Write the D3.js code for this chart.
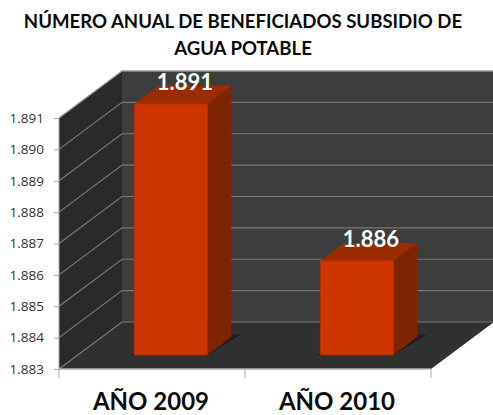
<!DOCTYPE html>
<html><head><meta charset="utf-8">
<script src="https://cdnjs.cloudflare.com/ajax/libs/d3/7.8.5/d3.min.js"></script>
<style>html,body{margin:0;padding:0;background:#fff}svg{display:block}</style>
</head><body><svg id="c" width="493" height="415"></svg>
<script>
const titleLines = ["NÚMERO ANUAL DE BENEFICIADOS SUBSIDIO DE", "AGUA POTABLE"];
const categories = ["AÑO 2009", "AÑO 2010"];
const values = [1891, 1886];
const valueLabels = ["1.891", "1.886"];
const tickValues = [1883, 1884, 1885, 1886, 1887, 1888, 1889, 1890, 1891];
const tickLabels = ["1.883", "1.884", "1.885", "1.886", "1.887", "1.888", "1.889", "1.890", "1.891"];

const svg = d3.select("#c");
const font = "Lato, 'Open Sans', sans-serif";
const W = {l: 59, r: 431, top: 118, bottom: 369, dx: 63, dy: -47};
const x = d3.scaleBand().domain(categories).range([W.l, W.r]);
const y = d3.scaleLinear().domain([1883, 1891]).range([W.bottom, W.top]);
const barW = 73, d0 = 0.3, d1 = 0.68;
const line = d3.line();
const P = (px, v, t) => [px + W.dx * t, y(v) + W.dy * t];
const poly = (pts, fill, stroke) => svg.append("path").attr("d", line(pts) + "Z").attr("fill", fill).attr("stroke", stroke || "none");

// titles
svg.selectAll("text.t").data(titleLines).join("text").attr("class", "t")
  .attr("x", 243).attr("y", (d, i) => 28 + i * 27)
  .attr("text-anchor", "middle").attr("font-family", font).attr("font-weight", 700)
  .attr("font-size", 18.6).attr("fill", "#0a0a0a").text(d => d);

// walls
poly([P(W.l, 1883, 1), P(W.l, 1891, 1), P(W.r, 1891, 1), P(W.r, 1883, 1)], "#3d3d3d");
poly([P(W.l, 1883, 0), P(W.l, 1891, 0), P(W.l, 1891, 1), P(W.l, 1883, 1)], "#2a2a2a");
poly([P(W.l, 1883, 0), P(W.r, 1883, 0), P(W.r, 1883, 1), P(W.l, 1883, 1)], "#303030");

// grid
svg.selectAll("path.g").data(tickValues).join("path").attr("class", "g")
  .attr("d", v => line([P(W.l, v, 0), P(W.l, v, 1), P(W.r, v, 1)]))
  .attr("fill", "none").attr("stroke", "#767676").attr("stroke-width", 1.2);
svg.append("path").attr("d", line([P(W.l, 1883, 0), P(W.l, 1891, 0), P(W.l, 1891, 1), P(W.r, 1891, 1)]))
  .attr("fill", "none").attr("stroke", "#a8a8a8").attr("stroke-width", 1);

// bars
categories.forEach((c, i) => {
  const a = x(c) + x.bandwidth() / 2 - barW / 2, b = a + barW, v = values[i];
  poly([P(a - 6, 1883, d0), P(b, 1883, d0), P(b + 6, 1883, d1 + 0.05), P(b - 4, 1883, d1 + 0.05)], "#1e1e1e");
  poly([P(b, 1883, d0), P(b, v, d0), P(b, v, d1), P(b, 1883, d1)], "#7f2400");
  poly([P(a, v, d0), P(b, v, d0), P(b, v, d1), P(a, v, d1)], "#9c2b00");
  poly([P(a, 1883, d0), P(a, v, d0), P(b, v, d0), P(b, 1883, d0)], "#cf3500", "#b52e00");
  svg.append("text").attr("x", (a + b) / 2 + W.dx * d1 - 10).attr("y", y(v) + W.dy * d1 + 4)
    .attr("text-anchor", "middle").attr("font-family", font).attr("font-weight", 700)
    .attr("font-size", 22).attr("fill", "#fff").text(valueLabels[i]);
});

// axes
svg.append("path").attr("d", line([[W.l, W.bottom], [W.r, W.bottom]])).attr("stroke", "#b0b0b0").attr("fill", "none").attr("stroke-width", 1.5);
const yAxis = d3.axisLeft(y).tickValues(tickValues).tickFormat((d, i) => tickLabels[i]).tickSize(5).tickPadding(10);
const gy = svg.append("g").attr("transform", `translate(${W.l},0)`).call(yAxis);
gy.select(".domain").remove();
gy.selectAll("line").attr("stroke", "#a8a8a8");
gy.selectAll("text").attr("font-family", "'Open Sans', sans-serif").attr("font-size", 13.5).attr("fill", "#333");
const xs = [W.l, x(categories[1]), W.r];
svg.selectAll("path.xt").data(xs).join("path").attr("class", "xt")
  .attr("d", d => line([[d, W.bottom], [d, W.bottom + 9]])).attr("stroke", "#a8a8a8").attr("fill", "none");
svg.selectAll("text.c").data(categories).join("text").attr("class", "c")
  .attr("x", d => x(d) + x.bandwidth() / 2 - 1).attr("y", 409.5)
  .attr("text-anchor", "middle").attr("font-family", font).attr("font-weight", 700)
  .attr("font-size", 24).attr("fill", "#0a0a0a").text(d => d);
</script></body></html>
